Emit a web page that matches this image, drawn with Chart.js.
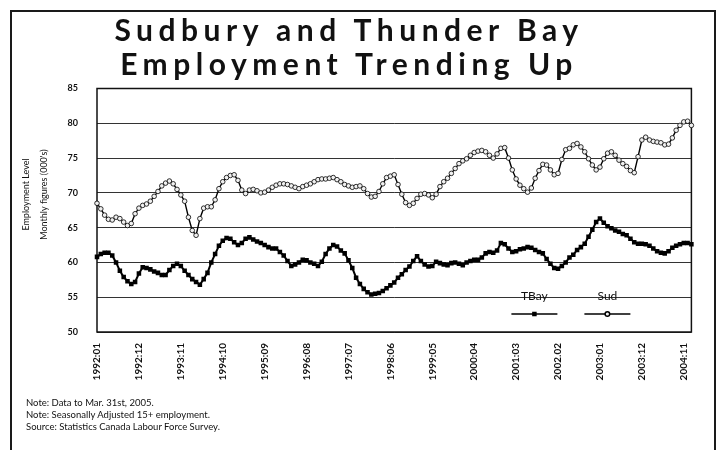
<!DOCTYPE html>
<html>
<head>
<meta charset="utf-8">
<script src="https://cdn.jsdelivr.net/npm/chart.js@4.4.1/dist/chart.umd.min.js"></script>
<style>
  html, body { margin:0; padding:0; background:#fff; }
  body { width:721px; height:450px; position:relative; overflow:hidden; font-family: Lato, sans-serif; color:#111; }
  #lineChart { position:absolute; left:0; top:0; }
  #frame { position:absolute; left:10px; top:10px; width:702px; height:460px; border:2px solid #1a1a1a; border-bottom:none; }
  #title { position:absolute; left:3px; top:12px; width:692px; text-align:center; font-weight:bold; font-size:30px; line-height:34px; letter-spacing:5.5px; }
  #notes { position:absolute; left:26px; top:397px; font-size:9.5px; line-height:12px; }
</style>
</head>
<body>
<canvas id="lineChart" width="721" height="450"></canvas>
<div id="frame"></div>
<div id="title">Sudbury and Thunder Bay<br>Employment Trending Up</div>
<div id="notes">Note: Data to Mar. 31st, 2005.<br>Note: Seasonally Adjusted 15+ employment.<br>Source: Statistics Canada Labour Force Survey.</div>
<script>
// Data (thousands, monthly from 1992:01)
const seriesNames = ['TBay', 'Sud'];

const tbay = [60.8, 61.2, 61.4, 61.4, 61.0, 60.0, 58.8, 57.9, 57.3, 56.9,
  57.2, 58.4, 59.3, 59.2, 59.0, 58.7, 58.5, 58.2, 58.2, 58.9,
  59.5, 59.8, 59.5, 58.8, 58.2, 57.6, 57.2, 56.8, 57.6, 58.5,
  60.0, 61.2, 62.4, 63.1, 63.5, 63.4, 62.9, 62.5, 62.8, 63.4,
  63.6, 63.3, 63.0, 62.8, 62.5, 62.2, 62.0, 62.0, 61.5, 61.0,
  60.2, 59.5, 59.7, 60.0, 60.4, 60.3, 60.0, 59.8, 59.5, 60.1,
  61.2, 62.0, 62.5, 62.3, 61.7, 61.3, 60.3, 59.2, 57.8, 56.9,
  56.2, 55.7, 55.4, 55.5, 55.6, 55.9, 56.3, 56.7, 57.1, 57.8,
  58.3, 58.9, 59.4, 60.2, 60.9, 60.2, 59.7, 59.4, 59.5, 60.1,
  59.9, 59.7, 59.6, 59.9, 60.0, 59.8, 59.6, 60.0, 60.2, 60.4,
  60.4, 60.7, 61.3, 61.5, 61.4, 61.7, 62.8, 62.6, 62.0, 61.5,
  61.6, 61.9, 62.0, 62.2, 62.1, 61.8, 61.5, 61.3, 60.5, 59.8,
  59.2, 59.1, 59.5, 60.0, 60.7, 61.1, 61.8, 62.2, 62.7, 63.7,
  64.7, 65.8, 66.3, 65.7, 65.2, 64.9, 64.6, 64.4, 64.1, 63.9,
  63.4, 62.9, 62.7, 62.7, 62.6, 62.4, 62.0, 61.6, 61.4, 61.3,
  61.6, 62.1, 62.4, 62.6, 62.8, 62.8, 62.6];

const sud = [68.5, 67.7, 66.8, 66.2, 66.1, 66.5, 66.3, 65.8, 65.3, 65.6,
  67.0, 67.8, 68.2, 68.4, 68.8, 69.5, 70.2, 71.0, 71.4, 71.7,
  71.3, 70.5, 69.7, 68.8, 66.5, 64.6, 63.9, 66.3, 67.8, 68.0,
  68.0, 69.0, 70.6, 71.6, 72.2, 72.5, 72.6, 71.8, 70.4, 69.9,
  70.4, 70.5, 70.3, 70.0, 70.1, 70.4, 70.8, 71.1, 71.3, 71.3,
  71.2, 71.0, 70.8, 70.6, 70.9, 71.1, 71.3, 71.6, 71.9, 72.0,
  72.0, 72.1, 72.2, 71.9, 71.6, 71.2, 71.0, 70.8, 70.9, 71.0,
  70.6, 69.9, 69.4, 69.5, 70.2, 71.3, 72.2, 72.4, 72.6, 71.2,
  69.8, 68.6, 68.2, 68.5, 69.2, 69.8, 69.9, 69.7, 69.3, 69.8,
  70.9, 71.6, 72.1, 72.8, 73.5, 74.2, 74.6, 74.9, 75.4, 75.8,
  76.0, 76.1, 75.9, 75.4, 75.0, 75.6, 76.4, 76.5, 75.0, 73.3,
  72.0, 71.1, 70.6, 70.1, 70.7, 72.1, 73.2, 74.1, 74.0, 73.3,
  72.6, 72.8, 74.8, 76.2, 76.4, 76.9, 77.1, 76.6, 75.9, 74.9,
  74.0, 73.3, 73.7, 74.9, 75.7, 75.9, 75.4, 74.7, 74.2, 73.8,
  73.2, 72.9, 75.2, 77.6, 78.0, 77.6, 77.4, 77.3, 77.2, 76.9,
  77.0, 77.9, 79.0, 79.7, 80.2, 80.3, 79.7];

// labels shown on the x axis, one every 11 months
const tickLabels = ['1992:01', '1992:12', '1993:11', '1994:10', '1995:09', '1996:08',
  '1997:07', '1998:06', '1999:05', '2000:04', '2001:03', '2002.02', '2003:01',
  '2003:12', '2004:11'];
const tickEvery = 11;

const yTitle = ['Employment Level', "Monthly figures (000's)"];

// month categories 1992:01 ...
const months = [];
for (let i = 0; i < sud.length; i++) {
  const y = 1992 + Math.floor(i / 12);
  const m = (i % 12) + 1;
  months.push(y + ':' + String(m).padStart(2, '0'));
}

// frame, y title and legend drawn on top of the chart
const plotExtras = {
  id: 'plotExtras',
  beforeDatasetsDraw(chart) {
    const {ctx, chartArea: a} = chart;
    ctx.save();
    ctx.strokeStyle = '#111';
    ctx.lineWidth = 1.5;
    ctx.strokeRect(a.left, a.top, a.right - a.left, a.bottom - a.top);

    // y axis title, two lines
    ctx.fillStyle = '#111';
    ctx.font = '9px Lato';
    ctx.textAlign = 'center';
    ctx.textBaseline = 'middle';
    const cy = a.top + 106;
    [26, 44].forEach((x, i) => {
      ctx.save();
      ctx.translate(x, cy);
      ctx.rotate(-Math.PI / 2);
      ctx.fillText(yTitle[i], 0, 0);
      ctx.restore();
    });
    ctx.restore();
  },
  afterDraw(chart) {
    const {ctx, chartArea: a} = chart;
    ctx.save();
    const spots = [a.right - 157, a.right - 84];
    chart.data.datasets.forEach((ds, i) => {
      const cx = spots[i];
      ctx.fillStyle = '#111';
      ctx.font = '12px Lato';
      ctx.textAlign = 'center';
      ctx.textBaseline = 'middle';
      ctx.fillText(ds.label, cx, a.bottom - 36);
      const ly = a.bottom - 18;
      ctx.strokeStyle = '#000';
      ctx.lineWidth = 1.5;
      ctx.beginPath();
      ctx.moveTo(cx - 23, ly);
      ctx.lineTo(cx + 23, ly);
      ctx.stroke();
      ctx.fillStyle = ds.pointBackgroundColor;
      ctx.strokeStyle = ds.pointBorderColor;
      Chart.helpers.drawPoint(ctx, {
        pointStyle: ds.pointStyle,
        radius: ds.pointRadius,
        rotation: 0,
        borderWidth: ds.pointBorderWidth
      }, cx, ly);
    });
    ctx.restore();
  }
};

const ctx = document.getElementById('lineChart').getContext('2d');

const lineChart = new Chart(ctx, {
  type: 'line',
  data: {
    labels: months,
    datasets: [{
      label: seriesNames[0],
      data: tbay,
      borderColor: '#000',
      borderWidth: 2,
      pointStyle: 'rect',
      pointRadius: 3.2,
      pointBackgroundColor: '#000',
      pointBorderColor: '#000',
      pointBorderWidth: 0,
      tension: 0
    }, {
      label: seriesNames[1],
      data: sud,
      borderColor: '#000',
      borderWidth: 1.4,
      pointStyle: 'circle',
      pointRadius: 2.3,
      pointBackgroundColor: '#f0f0f0',
      pointBorderColor: '#000',
      pointBorderWidth: 0.8,
      tension: 0
    }]
  },
  options: {
    responsive: false,
    animation: false,
    devicePixelRatio: 1,
    layout: { padding: { left: 12, right: 29.6, top: 88.5, bottom: 68 } },
    plugins: {
      legend: { display: false },
      title: { display: false },
      tooltip: { enabled: false }
    },
    scales: {
      x: {
        type: 'category',
        offset: false,
        grid: { display: false, drawTicks: false },
        border: { display: false },
        afterFit(scale) { scale.height = 50; },
        ticks: {
          autoSkip: false,
          minRotation: 90,
          maxRotation: 90,
          padding: 11,
          color: '#111',
          font: { family: 'Lato', size: 10, weight: 'bold' },
          callback: (v, i) => (i % tickEvery === 0 ? tickLabels[i / tickEvery] : '')
        }
      },
      y: {
        min: 50,
        max: 85,
        afterFit(scale) { scale.width = 85; },
        grid: { color: '#333', lineWidth: 1, drawTicks: false },
        border: { display: false },
        ticks: {
          stepSize: 5,
          padding: 19,
          color: '#111',
          font: { family: 'Lato', size: 9, weight: 'bold' }
        }
      }
    }
  },
  plugins: [plotExtras]
});
</script>
</body>
</html>
